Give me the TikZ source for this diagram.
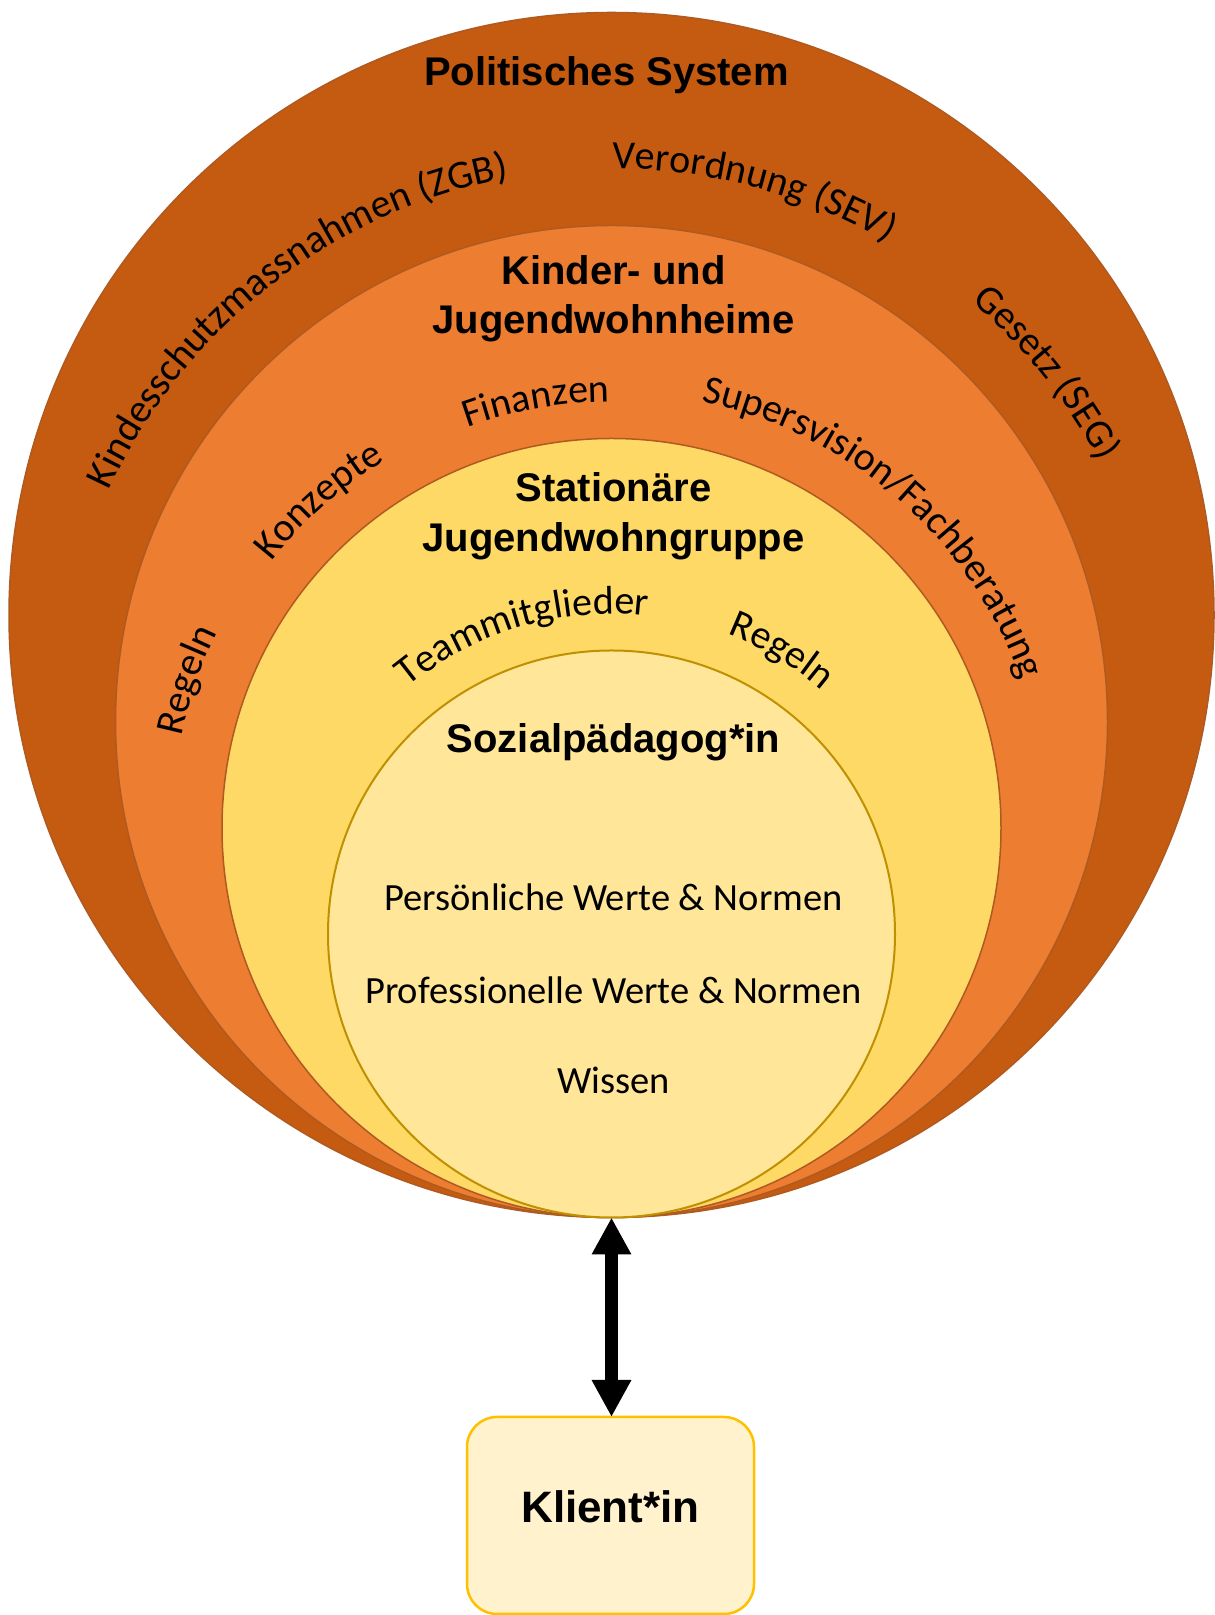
\documentclass[tikz,border=0pt]{standalone}
\usepackage{fontspec}
\setmainfont{Liberation Sans}
\newfontfamily\carlito{Carlito}
\usetikzlibrary{arrows.meta,decorations.text}
\definecolor{politisch}{HTML}{C55A11}
\definecolor{wohnheim}{HTML}{ED7D31}
\definecolor{wohngruppe}{HTML}{FFD966}
\definecolor{sozpaed}{HTML}{FFE699}
\definecolor{klientfill}{HTML}{FFF2CC}
\definecolor{randbraun}{HTML}{AE5A21}
\definecolor{randgold}{HTML}{BF9000}
\definecolor{randklient}{HTML}{FFC000}
\newcommand\bogenfont{\carlito\fontsize{40}{48}\selectfont}

\begin{document}
\begin{tikzpicture}[x=1pt, y=1pt,
    ring/.style={circle, inner sep=0pt, outer sep=0pt, line width=1.5pt, draw=randbraun},
    titel/.style={anchor=base, font=\bfseries\fontsize{40}{48}\selectfont},
    wert/.style={anchor=base, font=\carlito\fontsize{38.5}{46}\selectfont},
    bogen/.style={decorate, decoration={text along path, text align=center, text={|\bogenfont|#1}}}]
    \useasboundingbox (0,0) rectangle (1215,1615);

    \node [ring, fill=politisch, minimum size=1205pt] (polit) at (611.5,1000) {};
    \node [ring, fill=wohnheim, minimum size=992pt] (heime) at (611.5,893.5) {};
    \node [ring, fill=wohngruppe, minimum size=779pt] (gruppe) at (611.5,787) {};
    \node [ring, fill=sozpaed, draw=randgold, line width=2pt, minimum size=567pt] (sozial) at (611.5,681) {};

    \node [titel] (polittitel) at (606.5,1529) {Politisches System};
    \node [titel] (heimtitel1) at (613.5,1330) {Kinder- und};
    \node [titel] (heimtitel2) at (613.5,1281) {Jugendwohnheime};
    \node [titel] (gruppetitel1) at (613.5,1113) {Stationäre};
    \node [titel] (gruppetitel2) at (613.5,1063) {Jugendwohngruppe};
    \node [titel] (sozialtitel) at (613.5,862.3) {Sozialpädagog*in};

    \node [wert] (persoenlich) at (613.5,704) {Persönliche Werte \& Normen};
    \node [wert] (professionell) at (613.5,611) {Professionelle Werte \& Normen};
    \node [wert] (wissen) at (613.5,521) {Wissen};

    \path [bogen={Kindesschutzmassnahmen (ZGB)}] (heime.center) ++(168:553pt) arc [start angle=168, end angle=88, radius=553pt];
    \path [bogen={Verordnung (SEV)}] (heime.center) ++(100:553pt) arc [start angle=100, end angle=50, radius=553pt];
    \path [bogen={Gesetz (SEG)}] (heime.center) ++(58.7:553pt) arc [start angle=58.7, end angle=18.7, radius=553pt];

    \path [bogen={Regeln}] (gruppe.center) ++(175.8:440pt) arc [start angle=175.8, end angle=145.8, radius=440pt];
    \path [bogen={Konzepte}] (gruppe.center) ++(149.8:432pt) arc [start angle=149.8, end angle=113.8, radius=432pt];
    \path [bogen={Finanzen}] (gruppe.center) ++(118:426pt) arc [start angle=118, end angle=82, radius=426pt];
    \path [bogen={Supersvision/Fachberatung}] (gruppe.center) ++(84:436pt) arc [start angle=84, end angle=14, radius=436pt];

    \path [bogen={Teammitglieder}] (sozial.center) ++(136.5:320pt) arc [start angle=136.5, end angle=76.5, radius=320pt];
    \path [bogen={Regeln}] (sozial.center) ++(74:322pt) arc [start angle=74, end angle=44, radius=322pt];

    \node [draw=randklient, fill=klientfill, line width=2.5pt, rounded corners=30pt, minimum width=287pt, minimum height=197pt, inner sep=0pt, outer sep=0pt, text depth=17pt, font=\bfseries\fontsize{44}{52}\selectfont] (klient) at (610.5,99.5) {Klient*in};
    \draw [line width=13pt, {Triangle[width=37pt,length=37pt]}-{Triangle[width=37pt,length=37pt]}] (sozial.south) -- (sozial.south |- klient.north);
\end{tikzpicture}
\end{document}
